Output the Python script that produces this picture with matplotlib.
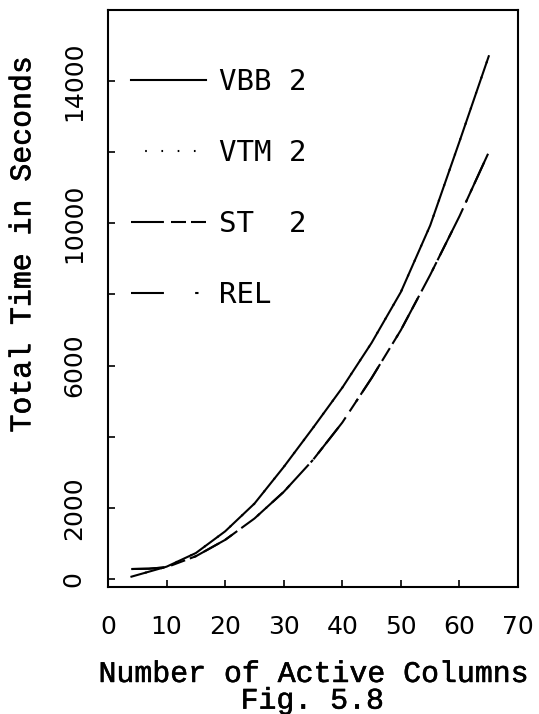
import matplotlib
matplotlib.use("Agg")
import matplotlib.pyplot as plt
import matplotlib.patheffects as pe

# data (Fig. 5.8)
cols_vbb = [4, 10, 15, 20, 25, 30, 35, 40, 45, 50, 55, 60, 65]
time_vbb = [65, 346, 730, 1340, 2120, 3150, 4250, 5380, 6640, 8070, 9940, 12300, 14700]

cols_vtm = [4, 10, 15, 20, 25, 30, 35, 40, 45, 50, 55, 60, 65]
time_vtm = [65, 346, 730, 1340, 2120, 3150, 4250, 5380, 6640, 8070, 9940, 12300, 14700]

cols_st = [4, 7, 10, 15, 20, 25, 30, 35, 40, 45, 50, 55, 60, 65]
time_st = [280, 290, 330, 640, 1100, 1700, 2450, 3350, 4400, 5650, 7000, 8550, 10200, 12000]

cols_rel = [4, 7, 10, 15, 20, 25, 30, 35, 40, 45, 50, 55, 60, 65]
time_rel = [280, 290, 330, 640, 1100, 1700, 2450, 3350, 4400, 5650, 7000, 8550, 10200, 12000]

series_labels = ["VBB 2", "VTM 2", "ST  2", "REL"]

x_ticks = [0, 10, 20, 30, 40, 50, 60, 70]
y_ticks = [0, 2000, 4000, 6000, 8000, 10000, 12000, 14000]
y_tick_labels = ["0", "2000", "", "6000", "", "10000", "", "14000"]

# plotter-ish text: courier-like mono, slightly thickened
label_font = {"family": "Liberation Mono", "size": 21.5}
thicken = [pe.withStroke(linewidth=0.4, foreground="black")]

fig = plt.figure(figsize=(5.39, 7.14), dpi=100)
ax = fig.add_axes([0.2004, 0.1779, 0.7607, 0.8081])

lw = 1.5
ax.plot(cols_vbb, time_vbb, color="black", lw=lw, linestyle="-", label=series_labels[0])
ax.plot(cols_vtm, time_vtm, color="black", lw=lw, linestyle=(1.0, (0.8, 7.0)), label=series_labels[1])
ax.plot(cols_st, time_st, color="black", lw=lw, linestyle=(0, (15.8, 3.4, 7.2, 2.4)), label=series_labels[2])
ax.plot(cols_rel, time_rel, color="black", lw=lw, linestyle=(0, (15.8, 15.0, 1.6, 4.0)), label=series_labels[3])

ax.set_xlim(0, 70)
ax.set_ylim(-225, 16000)

ax.set_xticks(x_ticks)
ax.set_xticklabels([str(v) for v in x_ticks], fontsize=18, family="DejaVu Sans")
ax.set_yticks(y_ticks)
ax.set_yticklabels(y_tick_labels, fontsize=18, family="DejaVu Sans", rotation=90, va="center")

ax.tick_params(axis="both", direction="in", length=5, width=1.2, color="black")
ax.tick_params(axis="x", pad=20)
ax.tick_params(axis="y", pad=16)

for spine in ax.spines.values():
    spine.set_linewidth(1.5)
    spine.set_color("black")

ax.set_xlabel("Number of Active Columns", path_effects=thicken, **label_font)
ax.xaxis.label.set_va("baseline")
ax.xaxis.set_label_coords(0.5, -0.1646)
ax.set_ylabel("Total Time in Seconds", path_effects=thicken, **label_font)
ax.yaxis.set_label_coords(-0.175, 0.593)

fig.text(0.579, 0.0075, "Fig. 5.8", ha="center", va="baseline", path_effects=thicken, **label_font)

ax.legend(loc="upper left", bbox_to_anchor=(0.027, 0.919), frameon=False,
          prop={"family": "DejaVu Sans Mono", "size": 21},
          handlelength=2.57, handletextpad=0.45, labelspacing=1.475, borderaxespad=0)

fig.savefig("out.png", dpi=100, facecolor="white")
